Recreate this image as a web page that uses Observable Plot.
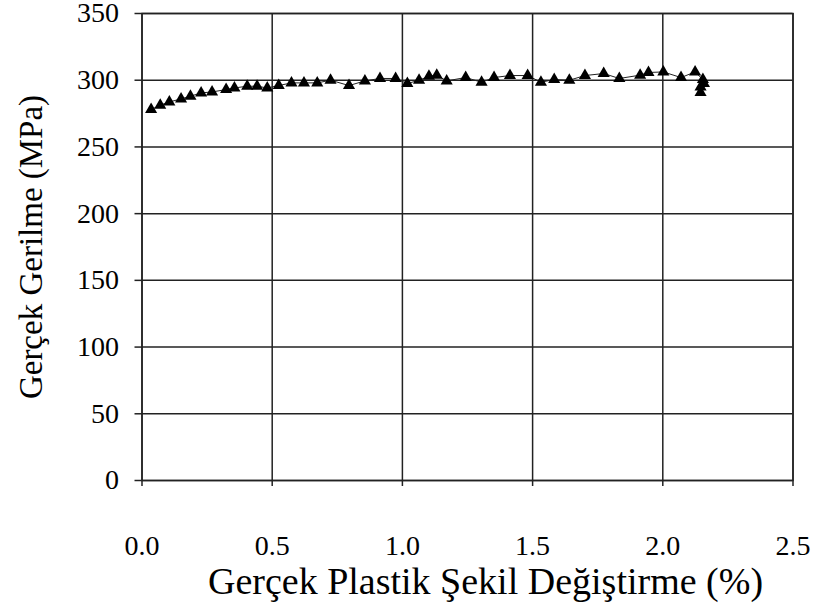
<!DOCTYPE html>
<html>
<head>
<meta charset="utf-8">
<script src="https://cdn.jsdelivr.net/npm/d3@7"></script>
<script src="https://cdn.jsdelivr.net/npm/@observablehq/plot@0.6"></script>
<style>
  html, body { margin: 0; padding: 0; background: #fff; }
  svg { display: block; }
  svg text { font-family: 'Liberation Serif', 'Times New Roman', serif; }
</style>
</head>
<body>
<div id="chart"></div>
<script>
const strain = [0.035,0.070,0.105,0.150,0.186,0.227,0.269,0.323,0.355,0.404,0.442,0.481,0.525,0.574,0.622,0.673,0.724,0.795,0.856,0.914,0.974,1.019,1.064,1.102,1.132,1.170,1.243,1.304,1.352,1.413,1.481,1.532,1.583,1.641,1.701,1.773,1.833,1.913,1.945,2.002,2.070,2.124,2.154,2.158,2.145,2.145];
const stress = [278.0,281.3,283.7,286.0,288.0,290.5,291.2,293.0,294.2,295.5,295.5,294.2,296.0,298.0,298.0,298.0,300.0,296.0,299.5,301.3,301.3,297.5,300.0,303.0,303.8,299.5,302.0,298.5,302.0,303.5,303.5,298.5,300.5,300.0,303.5,305.0,301.3,303.8,305.8,306.2,302.0,306.2,300.5,297.5,295.0,290.8];
const xTicks = [0, 0.5, 1.0, 1.5, 2.0, 2.5];
const yTicks = [0, 50, 100, 150, 200, 250, 300, 350];
const xTitle = "Gerçek Plastik Şekil Değiştirme (%)";
const yTitle = "Gerçek Gerilme (MPa)";

const data = strain.map((x, i) => ({x, y: stress[i]}));
const serif = "'Liberation Serif', 'Times New Roman', serif";

const chart = Plot.plot({
  width: 816,
  height: 608,
  marginLeft: 141.5,
  marginRight: 23.5,
  marginTop: 13,
  marginBottom: 128,
  style: {fontFamily: serif, background: "#fff", color: "#000"},
  x: {domain: [0, 2.5]},
  y: {domain: [0, 350]},
  marks: [
    Plot.gridX(xTicks, {stroke: "#222", strokeOpacity: 1, strokeWidth: 1.5}),
    Plot.gridY(yTicks, {stroke: "#222", strokeOpacity: 1, strokeWidth: 1.5}),
    Plot.frame({stroke: "#222", strokeWidth: 1.5}),
    Plot.axisX(xTicks, {tickFormat: d3.format(".1f"), tickSize: 6, tickPadding: 49, fontSize: 28, fontFamily: serif, label: null, stroke: "#222", strokeWidth: 1.5}),
    Plot.axisY(yTicks, {tickSize: 7, tickPadding: 16, fontSize: 28, fontFamily: serif, label: null, stroke: "#222", strokeWidth: 1.5}),
    Plot.line(data, {x: "x", y: "y", stroke: "#222", strokeWidth: 1}),
    Plot.dot(data, {x: "x", y: "y", symbol: "triangle", r: 4.5, fill: "#000", stroke: "none"}),
    Plot.text([xTitle], {frameAnchor: "bottom", dy: 101, dx: 18, text: d => d, fontSize: 38, fontFamily: serif, textAnchor: "middle", lineAnchor: "middle", fill: "#000"}),
    Plot.text([yTitle], {frameAnchor: "left", dx: -111, rotate: -90, text: d => d, fontSize: 33, fontFamily: serif, textAnchor: "middle", lineAnchor: "middle", fill: "#000"})
  ]
});
document.getElementById("chart").append(chart);
</script>
</body>
</html>
